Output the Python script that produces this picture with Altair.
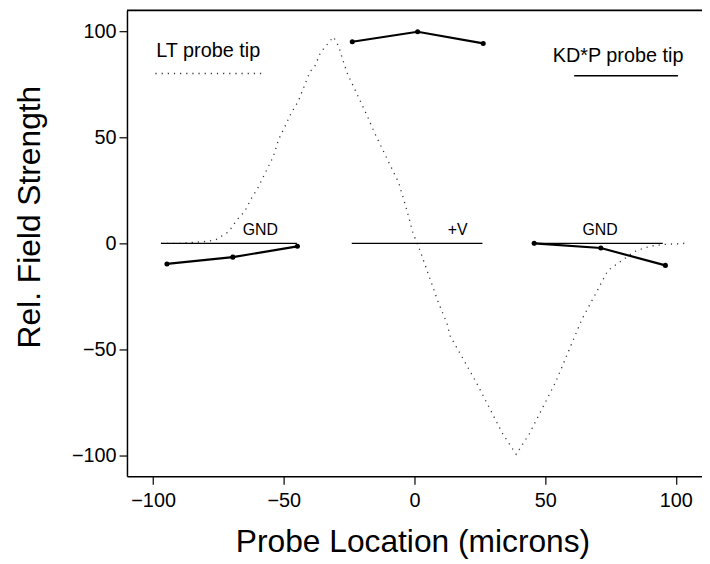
import altair as alt
import pandas as pd

# LT probe tip (dotted curve)
lt_x = [-97, -90, -83, -79, -76, -71, -68, -65, -62.5, -60, -56, -54, -52, -50, -47, -44.5,
        -40, -38, -36, -31, -29, -27, -25.6, -18, -15.6, -6, -3, -0.6, 1, 2, 9, 12.5, 13.6,
        23.8, 33.8, 38.9, 43.9, 54, 64, 69, 72, 74, 79, 84, 86, 90, 95, 104]
lt_y = [0, 0, 0.6, 1, 1.7, 5.6, 11, 15, 21, 26, 36, 41, 49, 54, 62, 67,
        81, 84, 90, 97.5, 93, 85, 80, 60, 53, 28.5, 16, 5, 0, -3, -27.5, -38, -43.6,
        -66, -90, -99.6, -90, -65.5, -36, -24.5, -17.4, -12.8, -8.4, -4, -3, -1.4, -0.5, 0]

# KD*P probe tip (solid segments with points)
kd_x = [-94.7, -69.5, -44.8, -23.8, 1.2, 26.3, 45.8, 71.3, 96.0]
kd_y = [-9.7, -6.5, -1.4, 95.2, 99.9, 94.4, 0.0, -2.2, -10.4]
kd_seg = ["left", "left", "left", "mid", "mid", "mid", "right", "right", "right"]

# Electrodes
el_start = [-97, -24, 46]
el_end = [-45, 26, 95]
el_label = ["GND", "+V", "GND"]
el_label_x = [-59, 16.5, 71]
el_label_y = [6.5, 6.5, 6.5]

# Legend annotations
leg_text = ["LT probe tip", "KD*P probe tip"]
leg_text_x = [-98.8, 52.9]
leg_text_y = [88.0, 85.5]
leg_line_x1 = [-99.1, 61.1]
leg_line_x2 = [-58.4, 100.8]
leg_line_y = [80.2, 79.1]

FONT = "Liberation Sans"
W, H = 580, 470

xs = alt.Scale(domain=[-110, 110], nice=False, zero=False)
ys = alt.Scale(domain=[-110, 110], nice=False, zero=False)

lt_df = pd.DataFrame({"x": lt_x, "y": lt_y, "i": range(len(lt_x))})
kd_df = pd.DataFrame({"x": kd_x, "y": kd_y, "seg": kd_seg})
el_df = pd.DataFrame({"x1": el_start, "x2": el_end, "y": [0, 0, 0],
                      "label": el_label, "lx": el_label_x, "ly": el_label_y})
leg_df = pd.DataFrame({"t": leg_text, "tx": leg_text_x, "ty": leg_text_y,
                       "x1": leg_line_x1, "x2": leg_line_x2, "ly": leg_line_y,
                       "kind": ["LT", "KD"]})

X = alt.X("x:Q", scale=xs, title="Probe Location (microns)",
          axis=alt.Axis(values=[-100, -50, 0, 50, 100], titleX=W / 2 - 2, titleY=66,
                        titleBaseline="middle", titleAlign="center", labelPadding=6))
Y = alt.Y("y:Q", scale=ys, title="Rel. Field Strength",
          axis=alt.Axis(values=[-100, -50, 0, 50, 100], titleX=-98, titleY=H / 2 - 27,
                        titleBaseline="middle", titleAlign="center", titleAngle=-90,
                        labelPadding=3))

lt_line = alt.Chart(lt_df).mark_line(strokeDash=[1.2, 5], color="#333", strokeWidth=1.3).encode(
    x=X, y=Y, order="i:Q")

electrodes = alt.Chart(el_df).mark_rule(color="black", strokeWidth=1.1).encode(
    x=alt.X("x1:Q", scale=xs), x2="x2:Q", y=alt.Y("y:Q", scale=ys))

kd_line = alt.Chart(kd_df).mark_line(color="black", strokeWidth=2.2).encode(
    x=alt.X("x:Q", scale=xs), y=alt.Y("y:Q", scale=ys), detail="seg:N")
kd_pts = alt.Chart(kd_df).mark_circle(color="black", size=26, opacity=1).encode(
    x=alt.X("x:Q", scale=xs), y=alt.Y("y:Q", scale=ys))

el_text = alt.Chart(el_df).mark_text(font=FONT, fontSize=16, color="black", align="center",
                                     baseline="middle").encode(
    x=alt.X("lx:Q", scale=xs), y=alt.Y("ly:Q", scale=ys), text="label:N")

leg_t = alt.Chart(leg_df).mark_text(font=FONT, fontSize=20, color="black", align="left",
                                    baseline="alphabetic").encode(
    x=alt.X("tx:Q", scale=xs), y=alt.Y("ty:Q", scale=ys), text="t:N")

leg_lt = alt.Chart(leg_df).transform_filter(alt.datum.kind == "LT").mark_rule(
    color="#333", strokeWidth=1.3, strokeDash=[1.2, 5]).encode(
    x=alt.X("x1:Q", scale=xs), x2="x2:Q", y=alt.Y("ly:Q", scale=ys))
leg_kd = alt.Chart(leg_df).transform_filter(alt.datum.kind == "KD").mark_rule(
    color="black", strokeWidth=1.6).encode(
    x=alt.X("x1:Q", scale=xs), x2="x2:Q", y=alt.Y("ly:Q", scale=ys))

top_border = alt.Chart(leg_df).transform_filter(alt.datum.kind == "LT").mark_rule(
    color="black", strokeWidth=2).encode(x=alt.value(0), x2=alt.value(W), y=alt.value(0))

chart = alt.layer(lt_line, electrodes, kd_line, kd_pts, el_text, leg_t, leg_lt, leg_kd,
                  top_border).properties(
    width=W, height=H,
    autosize=alt.AutoSizeParams(type="none"),
    padding={"left": 120, "top": 0, "right": 0, "bottom": 86},
).configure_view(stroke=None).configure_axis(
    grid=False, domainColor="black", domainWidth=1.5, tickColor="black", tickSize=8,
    tickWidth=1.2, labelColor="black", labelFont=FONT, labelFontSize=20,
    titleFont=FONT, titleFontSize=32, titleFontWeight="normal", titleColor="black",
)

chart.save("out.html", embed_options={"renderer": "svg", "actions": False})
